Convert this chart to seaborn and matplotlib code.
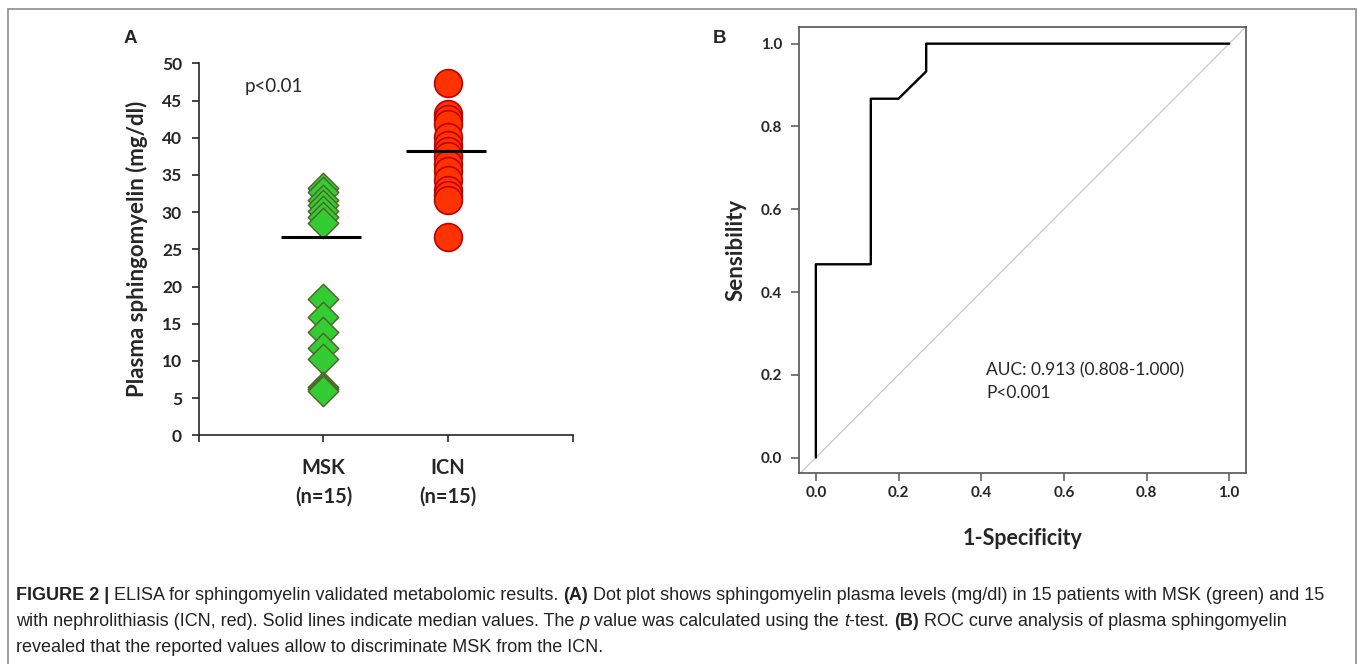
import pandas as pd
import matplotlib.pyplot as plt
import seaborn as sns
from matplotlib.patches import Rectangle

# panel A: sphingomyelin levels (mg/dl)
msk_values = [33.3, 32.7, 31.6, 31.0, 30.2, 29.3, 28.6, 18.3, 15.9, 13.9, 11.8, 10.2, 6.5, 6.2, 6.0]
icn_values = [47.4, 43.2, 42.5, 41.8, 40.1, 39.0, 38.2, 37.5, 36.5, 35.5, 34.3, 33.0, 32.3, 31.6, 26.7]
groups = ['MSK', 'ICN']
group_labels = ['MSK\n(n=15)', 'ICN\n(n=15)']
medians = [26.6, 38.2]

# panel B: ROC curve
fpr = [0.0, 0.0, 0.133, 0.133, 0.2, 0.267, 0.267, 1.0]
tpr = [0.0, 0.467, 0.467, 0.867, 0.867, 0.933, 1.0, 1.0]

sns.set_style('ticks')
plt.rcParams['font.family'] = ['Lato', 'DejaVu Sans']

df = pd.DataFrame({'group': ['MSK'] * len(msk_values) + ['ICN'] * len(icn_values),
                   'value': msk_values + icn_values})

fig = plt.figure(figsize=(13.58, 6.64), dpi=100)
W, H = 1358, 664

# ---- panel A
axA = fig.add_axes([198.7 / W, 1 - 435.3 / H, 374.3 / W, 372 / H])
sns.stripplot(data=df[df.group == 'MSK'], x='group', y='value', order=groups, jitter=False,
              marker='D', size=15.5, color='#33cc33', edgecolor='#4f6228', linewidth=1, ax=axA)
sns.stripplot(data=df[df.group == 'ICN'], x='group', y='value', order=groups, jitter=False,
              marker='o', size=20, color='#ff3300', edgecolor='#c00000', linewidth=1.2, ax=axA)
for i, m in enumerate(medians):
    axA.hlines(m, i - 0.34, i + 0.30, color='black', lw=2.2, zorder=5)
axA.set_xlim(-1, 2)
axA.set_ylim(0, 50)
axA.set_xticks([-1, 0, 1, 2])
axA.set_xticklabels([''] + group_labels + [''], fontsize=14.5, fontweight='bold', linespacing=1.55)
axA.set_yticks(range(0, 51, 5))
axA.tick_params(axis='y', labelsize=12.5, length=5, width=1.2, pad=7)
axA.tick_params(axis='x', length=5, width=1.2, pad=11)
for t in axA.get_yticklabels():
    t.set_fontweight('bold')
axA.set_xlabel('')
axA.set_ylabel('Plasma sphingomyelin (mg/dl)', fontsize=16, fontweight='bold', labelpad=10)
sns.despine(ax=axA)
for s in ['left', 'bottom']:
    axA.spines[s].set_linewidth(1.2)
axA.text(-0.63, 46.85, 'p<0.01', fontsize=13.5, va='center', ha='left')

# ---- panel B
axB = fig.add_axes([799.3 / W, 1 - 473.3 / H, 446.4 / W, 446.6 / H])
axB.axline((0, 0), slope=1, color='#c8c8c8', lw=0.9)
sns.lineplot(x=fpr, y=tpr, sort=False, estimator=None, color='black', lw=1.7, ax=axB)
axB.set_xlim(-0.04, 1.04)
axB.set_ylim(-0.038, 1.041)
ticks = [0, 0.2, 0.4, 0.6, 0.8, 1.0]
axB.set_xticks(ticks)
axB.set_yticks(ticks)
axB.set_xticklabels([f'{t:.1f}' for t in ticks], fontsize=11, fontweight='bold')
axB.set_yticklabels([f'{t:.1f}' for t in ticks], fontsize=11, fontweight='bold')
axB.tick_params(length=5.5, width=1.1, color='#555555', pad=4)
axB.tick_params(axis='y', pad=7)
for s in axB.spines.values():
    s.set_color('#555555')
    s.set_linewidth(1.2)
axB.set_xlabel('1-Specificity', fontsize=15.5, fontweight='bold', labelpad=20)
axB.set_ylabel('Sensibility', fontsize=16, fontweight='bold', labelpad=10)
axB.text(0.412, 0.183, 'AUC: 0.913 (0.808-1.000)\nP<0.001', fontsize=12.5, va='center',
         ha='left', linespacing=1.5)

# panel letters
fig.text(130 / W, 1 - 38.5 / H, 'A', fontsize=13.5, fontweight='bold', family='Liberation Sans',
         ha='center', va='center')
fig.text(719 / W, 1 - 38.5 / H, 'B', fontsize=13.5, fontweight='bold', family='Liberation Sans',
         ha='center', va='center')

# outer frame
fig.add_artist(Rectangle((7.5 / W, -0.1), (1355.7 - 7.5) / W, 1.1 - 9 / H, transform=fig.transFigure,
                         fill=False, edgecolor='#8c8c8c', lw=1.2))

# caption with mixed styles
renderer = fig.canvas.get_renderer()
cap_font = ['Liberation Sans Narrow', 'Liberation Sans']
cap_size = 12.95


def seg_width(s, weight, style):
    t1 = fig.text(0, 0, '|' + s + '|', fontsize=cap_size, family=cap_font, weight=weight, style=style)
    t2 = fig.text(0, 0, '||', fontsize=cap_size, family=cap_font, weight=weight, style=style)
    w = t1.get_window_extent(renderer).width - t2.get_window_extent(renderer).width
    t1.remove()
    t2.remove()
    return w


def caption_line(y, parts):
    x = 16.0
    for s, weight, style in parts:
        fig.text(x / W, 1 - y / H, s, fontsize=cap_size, family=cap_font, weight=weight, style=style,
                 color='#222222', va='center', ha='left')
        x += seg_width(s, weight, style)


caption_line(595, [('FIGURE 2 | ', 'bold', 'normal'),
                   ('ELISA for sphingomyelin validated metabolomic results. ', 'normal', 'normal'),
                   ('(A)', 'bold', 'normal'),
                   (' Dot plot shows sphingomyelin plasma levels (mg/dl) in 15 patients with MSK (green) and 15',
                    'normal', 'normal')])
caption_line(621, [('with nephrolithiasis (ICN, red). Solid lines indicate median values. The ', 'normal', 'normal'),
                   ('p', 'normal', 'italic'),
                   (' value was calculated using the ', 'normal', 'normal'),
                   ('t', 'normal', 'italic'),
                   ('-test. ', 'normal', 'normal'),
                   ('(B)', 'bold', 'normal'),
                   (' ROC curve analysis of plasma sphingomyelin', 'normal', 'normal')])
caption_line(647, [('revealed that the reported values allow to discriminate MSK from the ICN.', 'normal', 'normal')])

fig.savefig('out.png', dpi=100)
